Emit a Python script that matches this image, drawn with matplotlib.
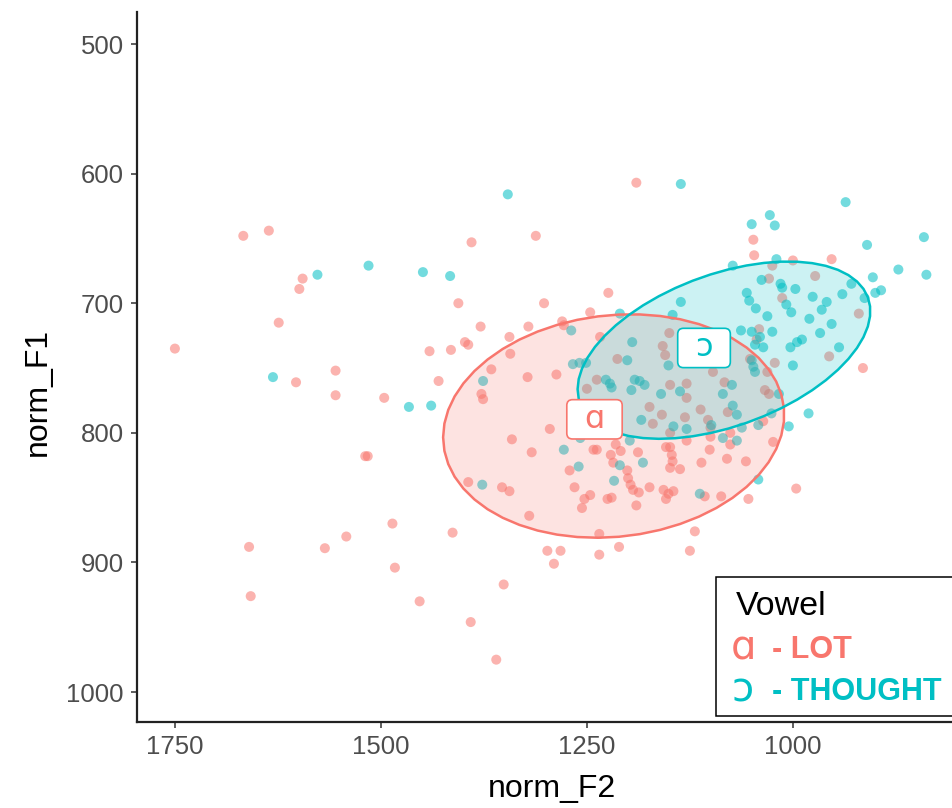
import numpy as np
import matplotlib
matplotlib.use("Agg")
import matplotlib.pyplot as plt
from matplotlib.patches import Polygon, Rectangle, BoxStyle

plt.rcParams['font.family'] = ['Liberation Sans', 'DejaVu Sans']

# ---- data: normalised formants per token ---------------------------------
lot_f2 = [1667, 1636, 1595, 1599, 1624, 1750, 1441, 1415, 1406, 1555, 1603, 1555,
          1430, 1496, 1519, 1516, 1486, 1413, 1542, 1660, 1568, 1483, 1658, 1453,
          1391, 1360, 1351, 1298, 1282, 1290, 1235, 1211, 1235, 1119, 1125, 1394,
          1353, 1344, 1320, 996, 1054, 1190, 1312, 1390, 1302, 1379, 1321, 1344,
          1398, 1394, 1343, 1366, 1322, 1287, 1378, 1376, 1280, 1278, 1246, 1224,
          1234, 1213, 1238, 1250, 1174, 1149, 1129, 1159, 1170, 1131, 1129, 1150,
          1158, 1155, 1295, 1267, 1341, 1317, 1242, 1238, 1221, 1215, 1209, 1188,
          1271, 1218, 1201, 1200, 1197, 1194, 1265, 1187, 1174, 1246, 1253, 1220,
          1225, 1256, 1190, 1154, 1149, 1147, 1146, 1149, 1137, 1157, 1151, 1145,
          1154, 1149, 1129, 1076, 1076, 1101, 1080, 1057, 1111, 1024, 1036, 1107,
          1087, 1103, 1100, 1112, 1079, 1083, 1097, 1041, 1044, 1052, 1022, 1031,
          1034, 1029, 956, 915, 1013, 1048, 1047, 1000, 953, 973, 1025, 1029, 920,
          1100]
lot_f1 = [648, 644, 681, 689, 715, 735, 737, 736, 700, 752, 761, 771,
          760, 773, 818, 818, 870, 877, 880, 888, 889, 904, 926, 930,
          946, 975, 917, 891, 891, 901, 894, 888, 878, 876, 891, 838,
          842, 845, 864, 843, 851, 607, 648, 653, 700, 718, 718, 726,
          730, 732, 739, 751, 757, 755, 770, 774, 714, 717, 707, 692,
          726, 743, 759, 766, 780, 763, 773, 786, 793, 788, 762, 723,
          733, 740, 797, 798, 805, 815, 813, 813, 817, 809, 814, 815,
          829, 823, 829, 835, 840, 844, 842, 846, 842, 848, 851, 850,
          851, 858, 856, 811, 811, 817, 822, 827, 828, 844, 847, 845,
          851, 800, 806, 800, 809, 813, 820, 822, 823, 807, 791, 849,
          849, 790, 796, 782, 784, 761, 753, 720, 728, 743, 746, 753,
          767, 770, 741, 750, 696, 651, 663, 667, 666, 679, 671, 681, 708,
          803]

thought_f2 = [1515, 1577, 1449, 1416, 1631, 1466, 1439, 1346, 1136, 936, 1028, 1050,
              1022, 1020, 910, 841, 872, 838, 903, 900, 893, 929, 940, 913,
              1073, 1038, 1015, 1013, 997, 976, 959, 965, 1056, 1053, 1045, 1008,
              1002, 1031, 980, 953, 967, 989, 995, 1003, 1025, 944, 1063, 1050,
              1040, 1046, 1036, 1050, 1048, 1046, 1000, 1017, 1074, 1085, 1073, 1068,
              1099, 981, 1005, 1042, 1062, 1068, 1085, 1129, 1137, 1160, 1145, 1151,
              1146, 1136, 1210, 1269, 1195, 1201, 1267, 1259, 1251, 1227, 1222, 1220,
              1192, 1186, 1180, 1196, 1184, 1258, 1278, 1260, 1210, 1182, 1217, 1198,
              1113, 1042, 1377, 1376, 1026]
thought_f1 = [671, 678, 676, 679, 757, 780, 779, 616, 608, 622, 632, 639,
              640, 666, 655, 649, 674, 678, 680, 692, 690, 685, 693, 696,
              671, 682, 685, 688, 689, 695, 699, 705, 692, 698, 704, 701,
              707, 710, 712, 716, 723, 728, 730, 734, 722, 734, 721, 722,
              726, 732, 734, 744, 749, 753, 748, 770, 763, 770, 779, 786,
              794, 785, 795, 794, 796, 806, 804, 797, 768, 770, 795, 748,
              709, 699, 708, 721, 730, 744, 747, 746, 746, 759, 762, 765,
              759, 760, 763, 767, 790, 804, 813, 826, 825, 823, 837, 806,
              847, 836, 840, 760, 785]

vowels = ["LOT", "THOUGHT"]
symbols = ["\u0251", "\u0254"]
colors = ["#F8766D", "#00BFC4"]
x_ticks = [1750, 1500, 1250, 1000]
y_ticks = [500, 600, 700, 800, 900, 1000]
ELLIPSE_LEVEL = 0.63

W, H = 952, 808


def cov_trob(x, nu=5, maxit=25, tol=0.01):
    """Multivariate-t robust location/scatter (as MASS::cov.trob)."""
    n, p = x.shape
    loc = x.mean(axis=0)
    w = np.ones(n)
    for _ in range(maxit):
        w0 = w
        X = x - loc
        sw = np.sqrt(w / w.sum())[:, None]
        _, d, vt = np.linalg.svd(sw * X, full_matrices=False)
        wX = X @ vt.T @ np.diag(1.0 / d)
        Q = (wX ** 2).sum(axis=1)
        w = (nu + p) / (nu + Q)
        loc = (w[:, None] * x).sum(axis=0) / w.sum()
        if np.all(np.abs(w - w0) < tol):
            break
    X = x - loc
    cov = (np.sqrt(w)[:, None] * X).T @ (np.sqrt(w)[:, None] * X) / n
    return loc, cov


def t_ellipse(xs, ys, level, segments=51):
    pts = np.column_stack([xs, ys]).astype(float)
    center, shape = cov_trob(pts)
    dfd = len(pts) - 1
    qf = dfd / 2.0 * ((1 - level) ** (-2.0 / dfd) - 1)
    radius = np.sqrt(2 * qf)
    ang = np.linspace(0, 2 * np.pi, segments + 1)
    circle = np.column_stack([np.cos(ang), np.sin(ang)])
    chol_upper = np.linalg.cholesky(shape).T
    return center + radius * circle @ chol_upper


def wide_round_box(x0, y0, width, height, mutation_size):
    extra = 0.42 * mutation_size
    return BoxStyle.Round(pad=0.13, rounding_size=0.18)(
        x0 - extra, y0, width + 2 * extra, height, mutation_size)


fig = plt.figure(figsize=(W / 100, H / 100), dpi=100)
ax = fig.add_axes([137 / W, 1 - 722 / H, (985 - 137) / W, (722 - 12) / H])

groups = [(lot_f2, lot_f1), (thought_f2, thought_f1)]

for (f2, f1), col in zip(groups, colors):
    ax.scatter(f2, f1, s=52, color=col, alpha=0.55, edgecolors='none', zorder=2)

for (f2, f1), col in zip(groups, colors):
    ell = t_ellipse(f2, f1, ELLIPSE_LEVEL)
    ax.add_patch(Polygon(ell, closed=True, facecolor=col, alpha=0.2,
                         edgecolor='none', zorder=3))
    ax.add_patch(Polygon(ell, closed=True, facecolor='none', edgecolor=col,
                         lw=1.8, zorder=4))

for (f2, f1), col, sym in zip(groups, colors, symbols):
    ax.text(np.mean(f2), np.mean(f1), sym, color=col, fontsize=23,
            family=['DejaVu Sans'], ha='center', va='center', zorder=6,
            bbox=dict(boxstyle=wide_round_box, facecolor='white',
                      edgecolor=col, lw=1.2))

ax.set_xlim(1796, 1796 - (985 - 137) * 1.2136)
ax.set_ylim(1023.1, 475.3)
ax.set_xticks(x_ticks)
ax.set_yticks(y_ticks)
ax.set_xticklabels([str(v) for v in x_ticks])
ax.set_yticklabels([str(v) for v in y_ticks])

for side in ['top', 'right']:
    ax.spines[side].set_visible(False)
for side in ['left', 'bottom']:
    ax.spines[side].set_color('#222222')
    ax.spines[side].set_linewidth(1.6)
ax.tick_params(axis='both', length=4.5, width=1.1, color='#333333',
               labelcolor='#4D4D4D', labelsize=18.5)
ax.tick_params(axis='y', pad=5)
ax.tick_params(axis='x', pad=5)

ax.set_xlabel("norm_F2", fontsize=23, color='black')
ax.set_ylabel("norm_F1", fontsize=23, color='black')
ax.xaxis.set_label_coords((552 - 137) / (985 - 137), (722 - 789) / 710)
ax.xaxis.label.set_va('center')
ax.yaxis.set_label_coords((38 - 137) / (985 - 137), (722 - 392) / 710)
ax.yaxis.label.set_va('center')


def fx(x):
    return x / W


def fy(y):
    return 1 - y / H


# legend panel
fig.patches.append(Rectangle((fx(716), fy(716)), fx(1000) - fx(716), fy(577) - fy(716),
                             transform=fig.transFigure, facecolor='white',
                             edgecolor='black', lw=1.1, zorder=10))
fig.text(fx(736), fy(615), "Vowel", fontsize=24.5, color='black', va='baseline',
         ha='left', zorder=11)
for sym, name, col, base in zip(symbols, vowels, colors, [659, 701]):
    fig.text(fx(731), fy(base), sym, fontsize=29, color=col, va='baseline',
             ha='left', family=['DejaVu Sans'], zorder=11)
    fig.text(fx(772), fy(base - 1), "- " + name, fontsize=22, color=col,
             fontweight='bold', va='baseline', ha='left', zorder=11)

fig.savefig("out.png", dpi=100)
